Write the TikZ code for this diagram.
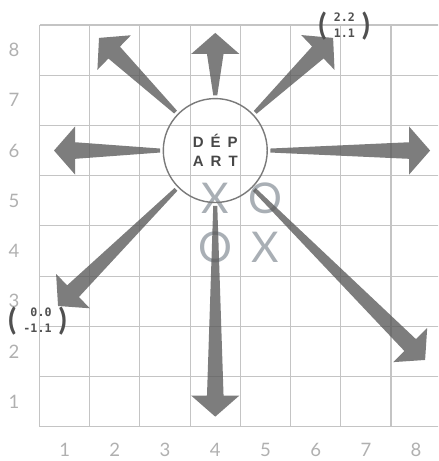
\documentclass[tikz,border=0pt]{standalone}
\usepackage{fontspec}
\usetikzlibrary{calc}
\newfontfamily\digitfont{Lato}
\newfontfamily\hubfont{Liberation Sans}
\newfontfamily\monofont{DejaVu Sans Mono}
\definecolor{gridLine}{HTML}{C4C4C4}
\definecolor{axisText}{HTML}{B0B0B0}
\definecolor{xoText}{HTML}{A9AFB5}
\definecolor{hubLine}{HTML}{7A7A7A}
\definecolor{hubText}{HTML}{474747}
\definecolor{spokeFill}{HTML}{5C5C5C}
\definecolor{coordText}{HTML}{505050}
\newcommand{\coordpair}[2]{\ensuremath{\vcenter{\hbox{\digitfont\fontsize{17}{17}\selectfont(}}\hspace{4pt}%
  \vcenter{\hbox{\begin{tabular}{@{}r@{}}#1\\#2\end{tabular}}}\hspace{4pt}%
  \vcenter{\hbox{\digitfont\fontsize{17}{17}\selectfont)}}}}

\begin{document}
\begin{tikzpicture}[
  gridline/.style={draw=gridLine, line width=0.6pt},
  axis/.style    ={text=axisText, font=\digitfont\fontsize{10.5}{10.5}\selectfont, inner sep=0pt},
  xo/.style      ={text=xoText, font=\digitfont\fontsize{24}{24}\selectfont, inner sep=0pt},
  hub/.style     ={circle, draw=hubLine, line width=0.8pt, minimum size=2.07cm, inner sep=0pt,
                   align=center, text=hubText, font=\hubfont\bfseries\fontsize{8.5}{11}\selectfont},
  spoke/.style   ={fill=spokeFill, fill opacity=0.8},
  coord/.style   ={text=coordText, font=\monofont\bfseries\fontsize{6.6}{9.4}\selectfont, inner sep=0pt},
]
\clip (-0.787,-0.683) rectangle (7.938,8.498);
% ----- Board -----
\draw[gridline] (0,0) grid (8,8);
\foreach \n in {1,...,8}{
  \node[axis] (xl\n) at (\n-0.5,-0.46) {\n};
  \node[axis] (yl\n) at (-0.51,\n-0.5) {\n};
}
\node[xo] (xa) at (3.5,4.55) {X};
\node[xo] (oa) at (4.5,4.55) {O};
\node[xo] (ob) at (3.5,3.58) {O};
\node[xo] (xb) at (4.5,3.58) {X};
% ----- Start -----
\node[hub] (depart) at (3.5,5.5) {D\hspace{4pt}É\hspace{4pt}P\\A\hspace{4pt}R\hspace{4pt}T};
% ----- Moves -----
\coordinate (tipN)  at (3.5,7.843);
\coordinate (tipNE) at (5.847,7.743);
\coordinate (tipE)  at (7.779,5.5);
\coordinate (tipSE) at (7.679,1.329);
\coordinate (tipS)  at (3.5,0.2);
\coordinate (tipSW) at (0.369,2.404);
\coordinate (tipW)  at (0.289,5.5);
\coordinate (tipNW) at (1.185,7.743);
\foreach \t in {tipN,tipNE,tipE,tipSE,tipS,tipSW,tipW,tipNW}{
  \coordinate (s) at ($(depart.center)!1.1cm!(\t)$);
  \coordinate (b) at ($(\t)!0.42cm!(s)$);
  \fill[spoke] ($(s)!0.04cm!90:(\t)$) -- ($(b)!0.165cm!90:(\t)$) -- ($(b)!0.48cm!90:(\t)$)
    -- (\t) -- ($(b)!0.48cm!-90:(\t)$) -- ($(b)!0.165cm!-90:(\t)$) -- ($(s)!0.04cm!-90:(\t)$) -- cycle;
}
% ----- Vectors -----
\node[coord] (labNE) at (6.07,7.98) {\coordpair{2.2}{1.1}};
\node[coord] (labSW) at (-0.04,2.1) {\coordpair{0.0}{-1.1}};
\end{tikzpicture}
\end{document}
